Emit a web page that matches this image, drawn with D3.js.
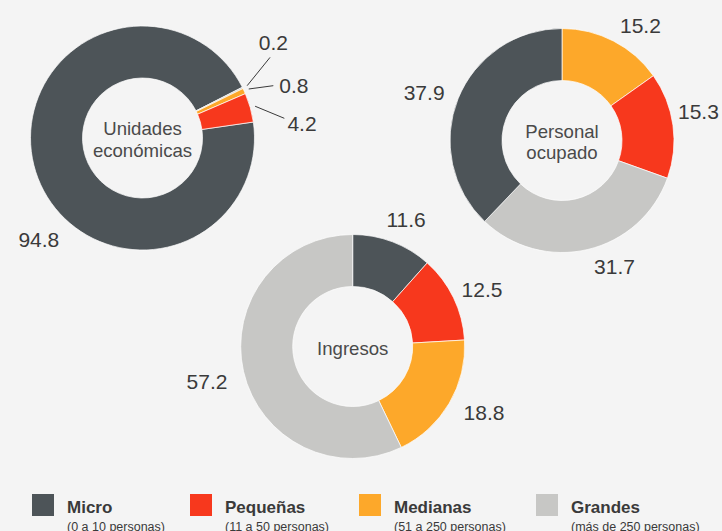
<!DOCTYPE html>
<html>
<head>
<meta charset="utf-8">
<script src="https://cdn.jsdelivr.net/npm/d3@7"></script>
<style>
  body { margin: 0; background: #f4f4f4; }
  svg { display: block; font-family: 'Liberation Sans', Arial, Helvetica, sans-serif; }
</style>
</head>
<body>
<div id="chart"></div>
<script>
// data
const categories = ['Micro', 'Pequeñas', 'Medianas', 'Grandes']
const ranges = ['(0 a 10 personas)', '(11 a 50 personas)', '(51 a 250 personas)', '(más de 250 personas)']
const unidades = [94.8, 4.2, 0.8, 0.2]
const personal = [37.9, 15.3, 15.2, 31.7]
const ingresos = [11.6, 12.5, 18.8, 57.2]

const colors = ['#4d5458', '#f7381d', '#fda82a', '#c7c7c5']

const width = 722
const height = 531
const outerR = 112
const innerR = 60

const svg = d3
  .select('#chart')
  .append('svg')
  .attr('width', width)
  .attr('height', height)

svg.append('rect').attr('width', width).attr('height', height).attr('fill', '#f4f4f4')

const rad = deg => deg * Math.PI / 180
const polar = (angle, r) => [Math.sin(rad(angle)) * r, -Math.cos(rad(angle)) * r]

// layout per donut: slice order clockwise, start angle, label [angle, radius] per category
const charts = [
  {
    title: ['Unidades', 'económicas'],
    values: unidades,
    order: [0, 3, 2, 1],
    start: 81.8,
    cx: 142.5,
    cy: 138,
    labels: [[225.5, 145.3], [84.7, 160.2], [70.9, 160.2], [53.9, 162]],
    leaders: [null, [82.1, 143.2], [68.2, 140.9], [57.7, 150.9]]
  },
  {
    title: ['Personal', 'ocupado'],
    values: personal,
    order: [2, 1, 3, 0],
    start: 0,
    cx: 562,
    cy: 140.5,
    labels: [[289.2, 146], [78, 139.5], [34.3, 139.2], [157.4, 136.5]],
    leaders: [null, null, null, null]
  },
  {
    title: ['Ingresos'],
    values: ingresos,
    order: [0, 1, 2, 3],
    start: 0,
    cx: 352.7,
    cy: 346.5,
    labels: [[22.7, 138.2], [66, 141.5], [116.7, 147], [256.7, 149.7]],
    leaders: [null, null, null, null]
  }
]

const arc = d3.arc().innerRadius(innerR).outerRadius(outerR)

charts.forEach(c => {
  const g = svg.append('g').attr('transform', `translate(${c.cx},${c.cy})`)

  const slices = c.order.map(i => ({ i: i, value: c.values[i] }))
  const pie = d3
    .pie()
    .sort(null)
    .value(d => d.value)
    .startAngle(rad(c.start))
    .endAngle(rad(c.start + 360))

  const arcs = pie(slices)

  g.selectAll('.slice')
    .data(arcs)
    .enter()
    .append('path')
    .attr('class', 'slice')
    .attr('d', arc)
    .attr('fill', d => colors[d.data.i])
    .attr('stroke', '#ffffff')
    .attr('stroke-width', 0.7)

  // leader lines for the thin slices
  g.selectAll('.leader')
    .data(arcs.filter(d => c.leaders[d.data.i]))
    .enter()
    .append('line')
    .attr('class', 'leader')
    .each(function(d) {
      const mid = (d.startAngle + d.endAngle) / 2 * 180 / Math.PI
      const p0 = polar(mid, outerR + 5)
      const p1 = polar(c.leaders[d.data.i][0], c.leaders[d.data.i][1])
      d3.select(this)
        .attr('x1', p0[0]).attr('y1', p0[1])
        .attr('x2', p1[0]).attr('y2', p1[1])
    })
    .attr('stroke', '#3a3a3a')
    .attr('stroke-width', 1)

  g.selectAll('.value')
    .data(arcs)
    .enter()
    .append('text')
    .attr('class', 'value')
    .attr('transform', d => {
      const p = polar(c.labels[d.data.i][0], c.labels[d.data.i][1])
      return `translate(${p})`
    })
    .attr('text-anchor', 'middle')
    .attr('dy', '0.36em')
    .attr('font-size', 21)
    .attr('fill', '#3a3a3a')
    .text(d => d3.format('.1f')(d.value))

  const lh = 21.5
  g.selectAll('.title')
    .data(c.title)
    .enter()
    .append('text')
    .attr('class', 'title')
    .attr('text-anchor', 'middle')
    .attr('y', (d, k) => 8 - (c.title.length - 1) * lh / 2 + k * lh)
    .attr('font-size', 18.6)
    .attr('fill', '#4a4a4a')
    .text(d => d)
})

// legend
const legendX = [32, 190, 359, 536]
const legend = svg
  .selectAll('.legend')
  .data(categories)
  .enter()
  .append('g')
  .attr('class', 'legend')
  .attr('transform', (d, i) => `translate(${legendX[i]},494)`)

legend.append('rect')
  .attr('width', 22)
  .attr('height', 22)
  .attr('fill', (d, i) => colors[i])

legend.append('text')
  .attr('x', 35)
  .attr('y', 18.5)
  .attr('font-size', 17)
  .attr('font-weight', 'bold')
  .attr('fill', '#3a3a3a')
  .text(d => d)

legend.append('text')
  .attr('x', 35)
  .attr('y', 36.5)
  .attr('font-size', 12.5)
  .attr('fill', '#3a3a3a')
  .text((d, i) => ranges[i])
</script>
</body>
</html>
